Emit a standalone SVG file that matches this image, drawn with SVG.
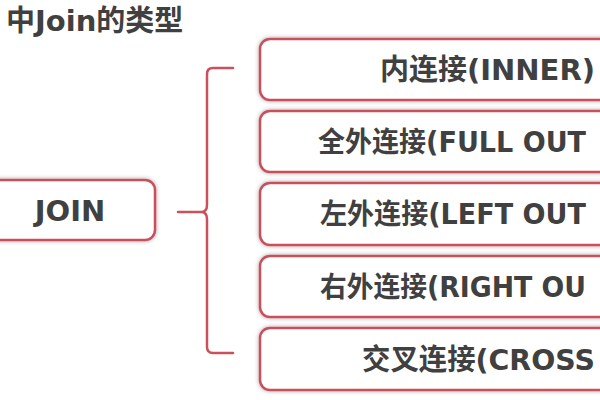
<svg xmlns="http://www.w3.org/2000/svg" width="600" height="400" viewBox="0 0 600 400">
  <defs>
    <filter id="sh" x="-10%" y="-30%" width="120%" height="160%">
      <feDropShadow dx="0" dy="0" stdDeviation="2" flood-color="#000" flood-opacity="0.35"/>
    </filter>
  </defs>
  <style>
    .box { fill: #ffffff; stroke: #c9505c; stroke-width: 2.5; filter: url(#sh); }
    .lbl { font-family: "DejaVu Sans", "Noto Sans CJK SC", sans-serif; font-weight: bold; font-size: 29px; fill: #404040; }
    .sm { font-size: 28px; }
    .title { font-family: "DejaVu Sans", "Noto Sans CJK SC", sans-serif; font-weight: bold; font-size: 29px; fill: #404040; }
    .brace { fill: none; stroke: #c9505c; stroke-width: 2.5; stroke-linecap: round; stroke-linejoin: round; }
  </style>
  <rect width="600" height="400" fill="#ffffff"/>
  <text class="title" x="6" y="31">中Join的类型</text>

  <g id="join">
    <rect class="box" x="-15" y="180" width="170" height="60" rx="10"/>
    <text class="lbl" x="70" y="221" text-anchor="middle">JOIN</text>
  </g>

  <g id="connectors">
    <path class="brace" d="M233,68 H213 Q207,68 207,74 V205 Q207,212 201,212 H178 M201,212 Q207,212 207,219 V347 Q207,353 213,353 H233"/>
  </g>

  <g id="inner">
    <rect class="box" x="260" y="39" width="454" height="61" rx="10"/>
    <text class="lbl" x="380" y="80">内连接(INNER)</text>
  </g>
  <g id="full">
    <rect class="box" x="260" y="111" width="454" height="61" rx="10"/>
    <text class="lbl sm" x="318" y="152" textLength="268" lengthAdjust="spacingAndGlyphs">全外连接(FULL OUT</text>
  </g>
  <g id="left">
    <rect class="box" x="260" y="183" width="454" height="62" rx="10"/>
    <text class="lbl sm" x="320" y="224" textLength="266" lengthAdjust="spacingAndGlyphs">左外连接(LEFT OUT</text>
  </g>
  <g id="right">
    <rect class="box" x="260" y="256" width="454" height="61" rx="10"/>
    <text class="lbl sm" x="320" y="297" textLength="266" lengthAdjust="spacingAndGlyphs">右外连接(RIGHT OU</text>
  </g>
  <g id="cross">
    <rect class="box" x="260" y="328" width="454" height="62" rx="10"/>
    <text class="lbl" x="362" y="370" textLength="233" lengthAdjust="spacingAndGlyphs">交叉连接(CROSS</text>
  </g>
</svg>
